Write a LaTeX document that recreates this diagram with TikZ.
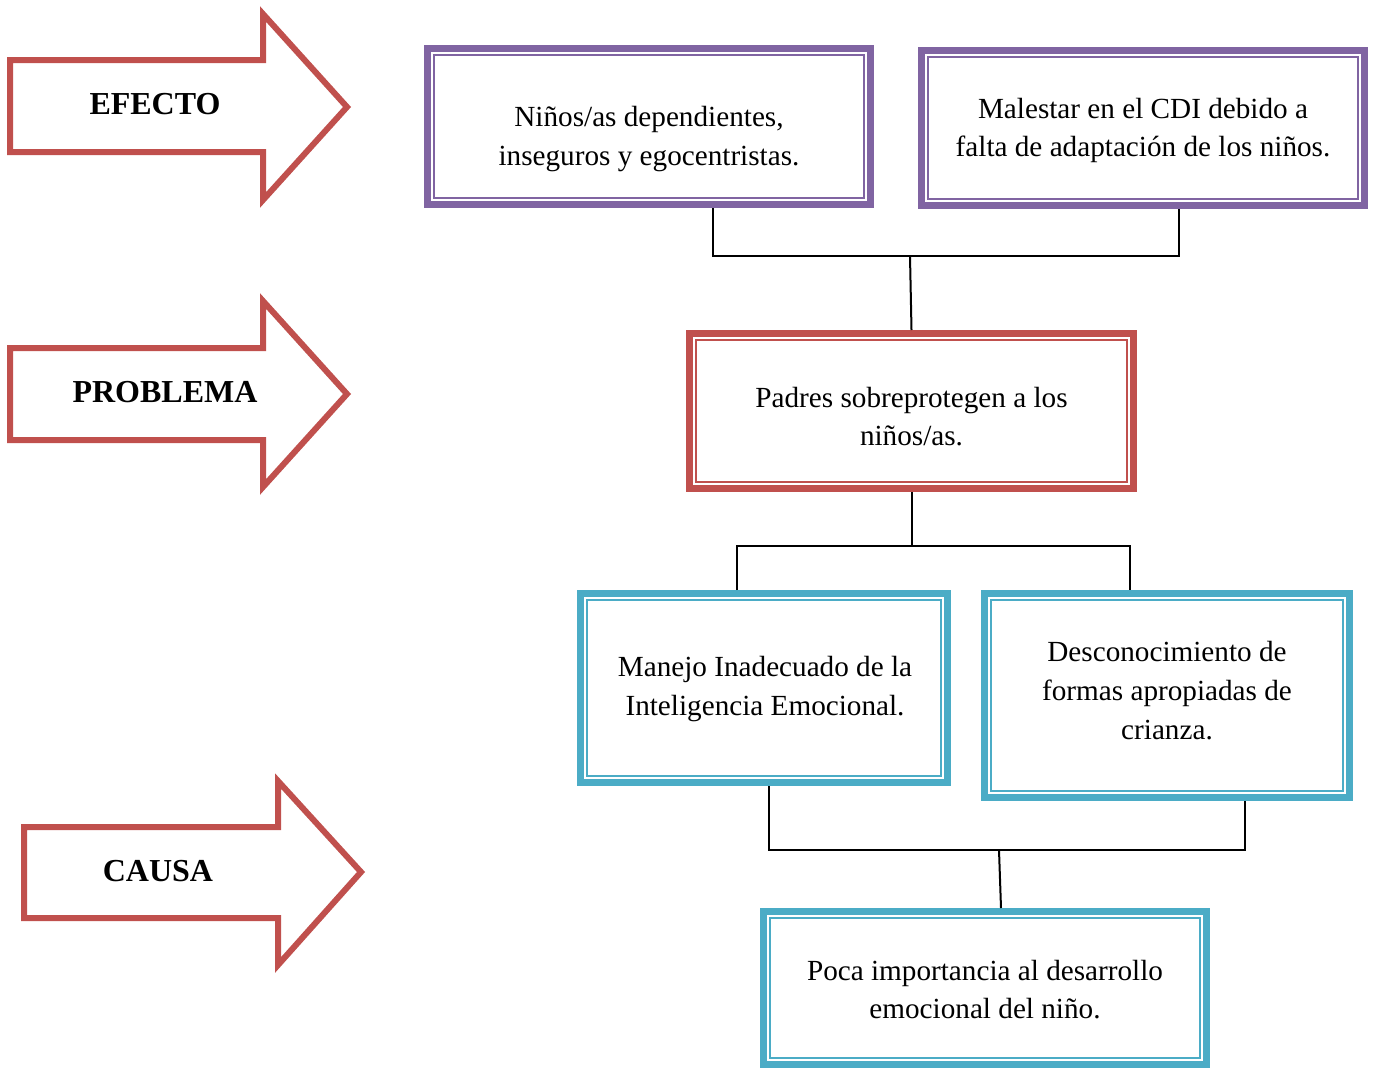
\documentclass[tikz,border=0pt]{standalone}
\usepackage{fontspec}
\setmainfont{Liberation Serif}
\definecolor{cpur}{HTML}{8064A2}
\definecolor{cred}{HTML}{C0504D}
\definecolor{cteal}{HTML}{4BACC6}
\begin{document}
\begin{tikzpicture}[x=1pt,y=-1pt,
  bx/.style={draw=#1, line width=7pt, inner sep=0pt},
  txt/.style={align=center, inner sep=0pt, font=\fontsize{29.2}{38.7}\selectfont, text=black},
  arr/.style={draw=cred, line width=6pt, line join=miter},
  lab/.style={font=\fontsize{32}{36}\selectfont\bfseries},
  con/.style={draw=black, line width=2pt}]
\useasboundingbox (0,0) rectangle (1376,1068);
\newcommand{\innerln}[2]{\draw[#2, line width=2pt] ([shift={(10,10)}]#1.north west) rectangle ([shift={(-10,-10)}]#1.south east);}
% arrows
\draw[arr] (10,60) -- (263,60) -- (263,14) -- (347,107) -- (263,200) -- (263,152) -- (10,152) -- cycle;
\node[lab] (efecto) at (155,104) {EFECTO};
\draw[arr] (10,348) -- (263,348) -- (263,301) -- (347,394) -- (263,487) -- (263,440) -- (10,440) -- cycle;
\node[lab] (problema) at (165,392) {PROBLEMA};
\draw[arr] (24,827) -- (278,827) -- (278,781) -- (361,872) -- (278,965) -- (278,918) -- (24,918) -- cycle;
\node[lab] (causa) at (158,871) {CAUSA};
% boxes
\node[bx=cpur, minimum width=443pt, minimum height=156pt] (b1) at (649,126.5) {};
\innerln{b1}{cpur}
\node[txt] (t1) at (649,139) {Niños/as dependientes,\\inseguros y egocentristas.};
\node[bx=cpur, minimum width=443pt, minimum height=155pt] (b2) at (1143,128) {};
\innerln{b2}{cpur}
\node[txt] (t2) at (1143,130.5) {Malestar en el CDI debido a\\falta de adaptación de los niños.};
\node[bx=cred, minimum width=444pt, minimum height=155pt] (b3) at (911.5,411) {};
\innerln{b3}{cred}
\node[txt] (t3) at (911.5,416.5) {Padres sobreprotegen a los\\niños/as.};
\node[bx=cteal, minimum width=367pt, minimum height=189pt] (b4) at (764,688) {};
\innerln{b4}{cteal}
\node[txt] (t4) at (765,689) {Manejo Inadecuado de la\\Inteligencia Emocional.};
\node[bx=cteal, minimum width=365pt, minimum height=204pt] (b5) at (1167,695.5) {};
\innerln{b5}{cteal}
\node[txt] (t5) at (1167,690.5) {Desconocimiento de\\formas apropiadas de\\crianza.};
\node[bx=cteal, minimum width=443pt, minimum height=153pt] (b6) at (985,988) {};
\innerln{b6}{cteal}
\node[txt] (t6) at (985,989.5) {Poca importancia al desarrollo\\emocional del niño.};
% connectors
\coordinate (j1) at (713,256);
\coordinate (j2) at (1179,256);
\coordinate (j3) at (910,256);
\draw[con] (j1 |- b1.south) -- (j1) -- (j2) -- (j2 |- b2.south);
\draw[con] (j3) -- (b3.north);
\coordinate (k1) at (737,546);
\coordinate (k2) at (1130,546);
\coordinate (k3) at (911.5,546);
\draw[con] (b3.south) -- (k3);
\draw[con] (k1 |- b4.north) -- (k1) -- (k2) -- (k2 |- b5.north);
\coordinate (m1) at (769,850);
\coordinate (m2) at (1245,850);
\coordinate (m3) at (999,850);
\draw[con] (m1 |- b4.south) -- (m1) -- (m2) -- (m2 |- b5.south);
\draw[con] (m3) -- (1001,0 |- b6.north);
\end{tikzpicture}
\end{document}
